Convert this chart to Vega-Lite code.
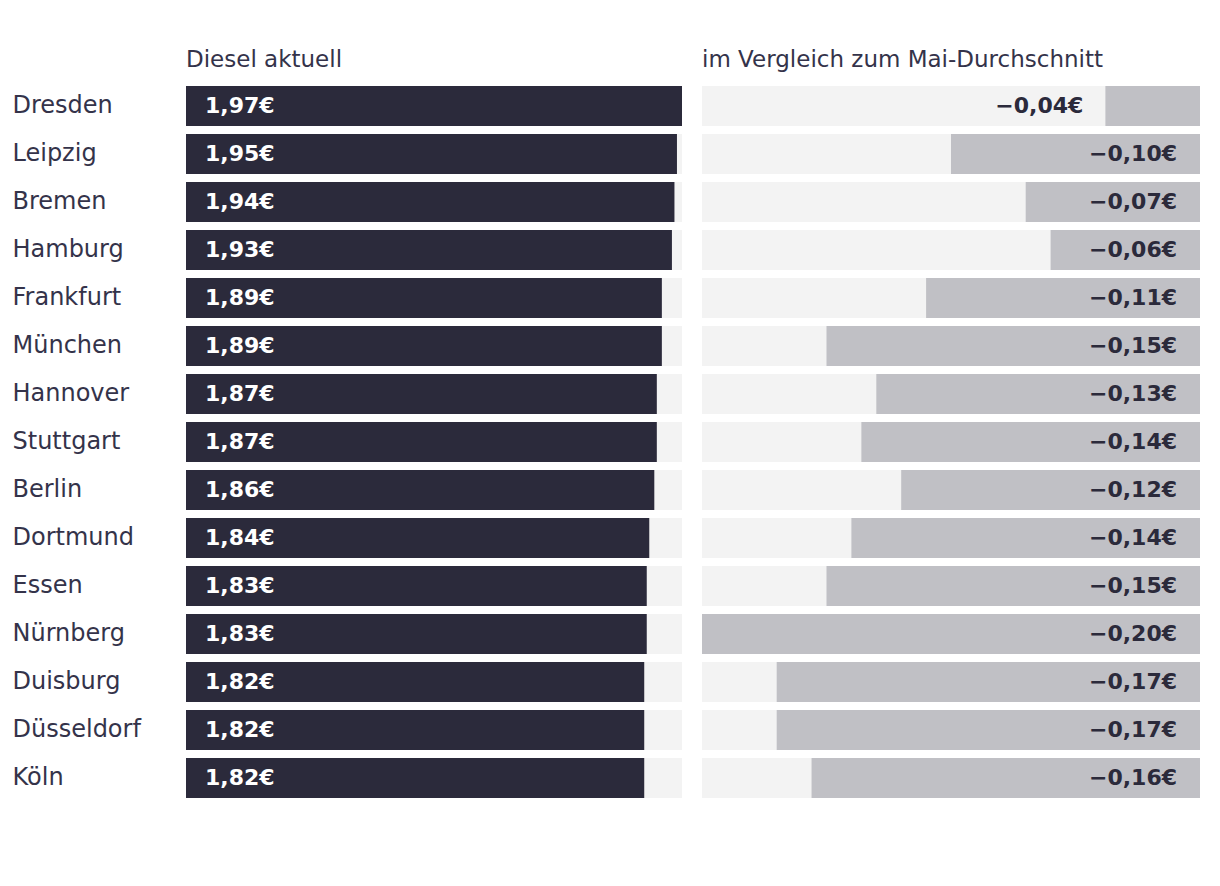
{
  "$schema": "https://vega.github.io/schema/vega-lite/v6.json",
  "autosize": "pad",
  "padding": {"left": 12, "top": 49, "right": 20, "bottom": 88},
  "background": "white",
  "config": {
    "locale": {"number": {"decimal": ",", "thousands": ".", "grouping": [3], "currency": ["", "€"], "minus": "−"}},
    "view": {"stroke": null},
    "font": "DejaVu Sans",
    "concat": {"spacing": 20}
  },
  "data": {"values": [
    {"city": "Dresden", "price": 1.97, "diff": -0.038},
    {"city": "Leipzig", "price": 1.95, "diff": -0.1},
    {"city": "Bremen", "price": 1.94, "diff": -0.07},
    {"city": "Hamburg", "price": 1.93, "diff": -0.06},
    {"city": "Frankfurt", "price": 1.89, "diff": -0.11},
    {"city": "München", "price": 1.89, "diff": -0.15},
    {"city": "Hannover", "price": 1.87, "diff": -0.13},
    {"city": "Stuttgart", "price": 1.87, "diff": -0.136},
    {"city": "Berlin", "price": 1.86, "diff": -0.12},
    {"city": "Dortmund", "price": 1.84, "diff": -0.14},
    {"city": "Essen", "price": 1.83, "diff": -0.15},
    {"city": "Nürnberg", "price": 1.83, "diff": -0.2},
    {"city": "Duisburg", "price": 1.82, "diff": -0.17},
    {"city": "Düsseldorf", "price": 1.82, "diff": -0.17},
    {"city": "Köln", "price": 1.82, "diff": -0.156}
  ]},
  "hconcat": [
    {
      "width": 496,
      "height": 712,
      "title": {"text": "Diesel aktuell", "anchor": "start", "frame": "group", "fontSize": 23, "fontWeight": "normal", "color": "#34334a", "offset": 14, "font": "DejaVu Sans"},
      "encoding": {
        "y": {"field": "city", "type": "nominal", "sort": null,
          "scale": {"paddingInner": 0.1667, "paddingOuter": 0},
          "axis": {"title": null, "domain": false, "ticks": false, "labelAlign": "left", "labelPadding": 174, "labelFontSize": 24, "labelFont": "DejaVu Sans", "labelFontWeight": "normal", "labelColor": "#34334a", "labelLimit": 172}}
      },
      "layer": [
        {"mark": {"type": "bar", "color": "#f3f3f3"}, "encoding": {"x": {"datum": 0, "type": "quantitative", "scale": {"domain": [0, 1.97], "nice": false}, "axis": null}, "x2": {"datum": 1.97}}},
        {"mark": {"type": "bar", "color": "#2b2a3b"}, "encoding": {"x": {"field": "price", "type": "quantitative", "scale": {"domain": [0, 1.97], "nice": false}, "axis": null}}},
        {"mark": {"type": "text", "align": "left", "baseline": "middle", "dx": 19, "fontSize": 22, "fontWeight": "bold", "font": "DejaVu Sans", "color": "white"},
         "encoding": {"x": {"datum": 0, "type": "quantitative"}, "text": {"field": "price", "type": "quantitative", "format": "$.2f"}}}
      ]
    },
    {
      "width": 498,
      "height": 712,
      "title": {"text": "im Vergleich zum Mai-Durchschnitt", "anchor": "start", "frame": "group", "fontSize": 23, "fontWeight": "normal", "color": "#34334a", "offset": 14, "font": "DejaVu Sans"},
      "encoding": {
        "y": {"field": "city", "type": "nominal", "sort": null,
          "scale": {"paddingInner": 0.1667, "paddingOuter": 0}, "axis": null}
      },
      "layer": [
        {"mark": {"type": "bar", "color": "#f3f3f3"}, "encoding": {"x": {"datum": -0.2, "type": "quantitative", "scale": {"domain": [-0.2, 0], "nice": false, "zero": false}, "axis": null}, "x2": {"datum": 0}}},
        {"mark": {"type": "bar", "color": "#c0c0c5"}, "encoding": {"x": {"field": "diff", "type": "quantitative", "scale": {"domain": [-0.2, 0], "nice": false, "zero": false}, "axis": null}, "x2": {"datum": 0}}},
        {"transform": [{"filter": "datum.diff < -0.05"}],
         "mark": {"type": "text", "align": "right", "baseline": "middle", "dx": -23, "fontSize": 22, "fontWeight": "bold", "font": "DejaVu Sans", "color": "#2b2a3b"},
         "encoding": {"x": {"datum": 0, "type": "quantitative"}, "text": {"field": "diff", "type": "quantitative", "format": "$.2f"}}},
        {"transform": [{"filter": "datum.diff >= -0.05"}],
         "mark": {"type": "text", "align": "right", "baseline": "middle", "dx": -22, "fontSize": 22, "fontWeight": "bold", "font": "DejaVu Sans", "color": "#2b2a3b"},
         "encoding": {"x": {"field": "diff", "type": "quantitative"}, "text": {"field": "diff", "type": "quantitative", "format": "$.2f"}}}
      ]
    }
  ]
}
